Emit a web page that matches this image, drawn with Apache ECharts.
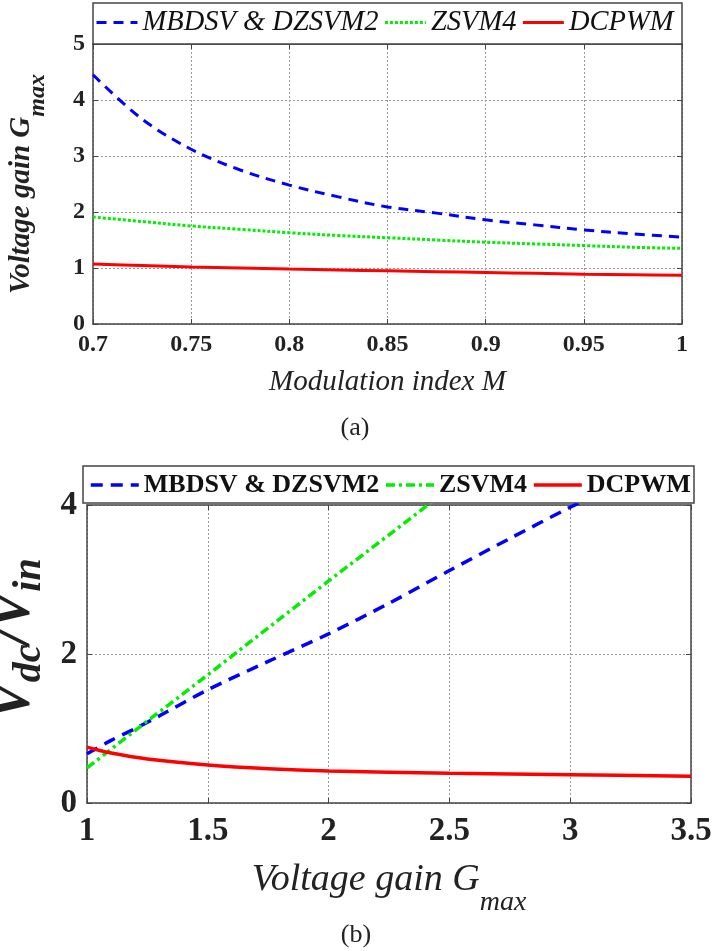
<!DOCTYPE html>
<html>
<head>
<meta charset="utf-8">
<script src="https://cdn.jsdelivr.net/npm/echarts@6/dist/echarts.min.js"></script>
<style>
  html, body { margin: 0; padding: 0; background: #fff; }
  #chart { width: 712px; height: 951px; }
</style>
</head>
<body>
<div id="chart"></div>
<script>
// (a) maximum voltage gain versus modulation index
const modIndex   = [0.7, 0.725, 0.75, 0.775, 0.8, 0.825, 0.85, 0.875, 0.9, 0.925, 0.95, 0.975, 1.0];
const gainMbdsv  = [4.45, 3.66, 3.12, 2.75, 2.48, 2.27, 2.09, 1.98, 1.86, 1.77, 1.68, 1.61, 1.55];
const gainZsvm4  = [1.91, 1.83, 1.75, 1.69, 1.63, 1.58, 1.54, 1.50, 1.46, 1.43, 1.40, 1.37, 1.35];
const gainDcpwm  = [1.07, 1.045, 1.02, 1.0, 0.98, 0.965, 0.95, 0.935, 0.92, 0.905, 0.89, 0.88, 0.87];

// (b) dc-link to input voltage ratio versus voltage gain
const gMbdsv     = [1.0, 1.1, 1.2, 1.3, 1.5, 1.75, 2.0, 2.25, 2.5, 2.75, 3.0, 3.1];
const ratioMbdsv = [0.66, 0.84, 1.0, 1.17, 1.52, 1.9, 2.27, 2.68, 3.12, 3.55, 3.97, 4.13];
const gZsvm4     = [1.0, 1.25, 1.5, 1.75, 2.0, 2.25, 2.5];
const ratioZsvm4 = [0.47, 1.1, 1.72, 2.35, 2.98, 3.6, 4.22];
const gDcpwm     = [1.0, 1.1, 1.25, 1.5, 1.75, 2.0, 2.5, 3.0, 3.5];
const ratioDcpwm = [0.75, 0.67, 0.59, 0.51, 0.46, 0.43, 0.40, 0.38, 0.36];

const seriesNames = ['MBDSV & DZSVM2', 'ZSVM4', 'DCPWM'];
const BLUE = '#0000ff', GREEN = '#00ee00', RED = '#ff0000';
const SERIF = '"Liberation Serif", "DejaVu Serif", serif';
const FRAME = '#444';

function pairs(xs, ys) { return xs.map((x, i) => [x, ys[i]]); }

function frameAxis(gridIndex, position, min, max, interval) {
  return {
    type: 'value', gridIndex, position, min, max, interval,
    axisLine: { show: true, onZero: false, lineStyle: { color: FRAME, width: 1.5 } },
    axisTick: { show: true, inside: true, length: 5, lineStyle: { color: FRAME } },
    axisLabel: { show: false },
    splitLine: { show: false }
  };
}

const tickLabel = (size, margin) => ({
  fontFamily: SERIF, fontWeight: 'bold', fontSize: size, color: '#222', margin
});

const gridLine = { show: true, lineStyle: { type: [2, 2], color: '#9a9a9a', width: 1 } };

// legend keys show only the line sample, no marker
const hiddenMarker = { opacity: 0 };

const chart = echarts.init(document.getElementById('chart'), null, { renderer: 'canvas' });

chart.setOption({
  backgroundColor: '#fff',
  animation: false,
  grid: [
    { left: 93, top: 44, width: 589, height: 280, outerBoundsMode: 'none' },
    { left: 87, top: 505, width: 604, height: 298, outerBoundsMode: 'none' }
  ],
  xAxis: [
    {
      type: 'value', gridIndex: 0, position: 'bottom', min: 0.7, max: 1, interval: 0.05,
      axisLine: { show: true, onZero: false, lineStyle: { color: FRAME, width: 1.5 } },
      axisTick: { show: true, inside: true, length: 5, lineStyle: { color: FRAME } },
      axisLabel: Object.assign(tickLabel(24, 9), { formatter: v => String(+v.toFixed(2)) }),
      splitLine: gridLine,
      name: 'Modulation index M',
      nameLocation: 'middle', nameGap: 41,
      nameTextStyle: { fontFamily: SERIF, fontStyle: 'italic', fontSize: 29, color: '#222', lineHeight: 34 }
    },
    frameAxis(0, 'top', 0.7, 1, 0.05),
    {
      type: 'value', gridIndex: 1, position: 'bottom', min: 1, max: 3.5, interval: 0.5,
      axisLine: { show: true, onZero: false, lineStyle: { color: FRAME, width: 1.5 } },
      axisTick: { show: true, inside: true, length: 5, lineStyle: { color: FRAME } },
      axisLabel: tickLabel(33, 12),
      splitLine: gridLine,
      name: '{a|Voltage gain G}{s|max}',
      nameLocation: 'middle', nameGap: 58,
      nameTextStyle: {
        fontFamily: SERIF, fontStyle: 'italic', color: '#222',
        rich: {
          a: { fontFamily: SERIF, fontStyle: 'italic', fontSize: 38, lineHeight: 44, verticalAlign: 'top', color: '#222' },
          s: { fontFamily: SERIF, fontStyle: 'italic', fontSize: 28, lineHeight: 84, verticalAlign: 'middle', color: '#222' }
        }
      }
    },
    frameAxis(1, 'top', 1, 3.5, 0.5)
  ],
  yAxis: [
    {
      type: 'value', gridIndex: 0, position: 'left', min: 0, max: 5, interval: 1,
      axisLine: { show: true, onZero: false, lineStyle: { color: FRAME, width: 1.5 } },
      axisTick: { show: true, inside: true, length: 5, lineStyle: { color: FRAME } },
      axisLabel: tickLabel(24, 8),
      splitLine: gridLine,
      name: '{a|Voltage gain G}{s|max}',
      nameLocation: 'middle', nameGap: 24,
      nameTextStyle: {
        fontFamily: SERIF, fontStyle: 'italic', fontWeight: 'bold', color: '#222',
        rich: {
          a: { fontFamily: SERIF, fontStyle: 'italic', fontWeight: 'bold', fontSize: 29, lineHeight: 34, verticalAlign: 'top', color: '#222' },
          s: { fontFamily: SERIF, fontStyle: 'italic', fontWeight: 'bold', fontSize: 24, lineHeight: 62, verticalAlign: 'middle', color: '#222' }
        }
      }
    },
    frameAxis(0, 'right', 0, 5, 1),
    {
      type: 'value', gridIndex: 1, position: 'left', min: 0, max: 4, interval: 2,
      axisLine: { show: true, onZero: false, lineStyle: { color: FRAME, width: 1.5 } },
      axisTick: { show: true, inside: true, length: 5, lineStyle: { color: FRAME } },
      axisLabel: tickLabel(33, 10),
      splitLine: gridLine,
      name: '{v|V}{s|dc}{v|/V}{s|in}',
      nameLocation: 'middle', nameGap: -1,
      nameTextStyle: {
        fontFamily: SERIF, fontStyle: 'italic', fontWeight: 'bold', color: '#222',
        padding: [0, 0, 0, 30],
        rich: {
          v: { fontFamily: SERIF, fontStyle: 'italic', fontWeight: 'bold', fontSize: 56, lineHeight: 62, verticalAlign: 'top', color: '#222' },
          s: { fontFamily: SERIF, fontStyle: 'italic', fontWeight: 'bold', fontSize: 40, lineHeight: 86, verticalAlign: 'middle', color: '#222' }
        }
      }
    },
    frameAxis(1, 'right', 0, 4, 2)
  ],
  legend: [
    {
      left: 95, top: 8, padding: 0, z: 10,
      itemWidth: 41, itemHeight: 14, itemGap: 5,
      itemStyle: hiddenMarker,
      textStyle: { fontFamily: SERIF, fontStyle: 'italic', fontSize: 28.5, color: '#111' },
      data: [
        { name: seriesNames[0], lineStyle: { color: BLUE, type: [10, 7], width: 3 } },
        { name: seriesNames[1], lineStyle: { color: GREEN, type: [3, 2], width: 3 } },
        { name: seriesNames[2], lineStyle: { color: RED, type: 'solid', width: 3 } }
      ]
    },
    {
      left: 89, top: 472, padding: 0, z: 10,
      itemWidth: 48, itemHeight: 14, itemGap: 5,
      itemStyle: hiddenMarker,
      textStyle: { fontFamily: SERIF, fontWeight: 'bold', fontSize: 26, color: '#111' },
      data: [
        { name: seriesNames[0], lineStyle: { color: BLUE, type: [12, 8], width: 3.5 } },
        { name: seriesNames[1], lineStyle: { color: GREEN, type: [9, 4, 3, 4], width: 3.5 } },
        { name: seriesNames[2], lineStyle: { color: RED, type: 'solid', width: 3.5 } }
      ]
    }
  ],
  graphic: [
    { type: 'rect', z: 1, shape: { x: 93, y: 3, width: 589, height: 41 },
      style: { fill: '#fff', stroke: FRAME, lineWidth: 1.5 } },
    { type: 'rect', z: 1, shape: { x: 83, y: 466, width: 611, height: 37 },
      style: { fill: '#fff', stroke: FRAME, lineWidth: 1.5 } },
    { type: 'text', x: 355, y: 428,
      style: { text: '(a)', fontFamily: SERIF, fontSize: 26, fill: '#222', align: 'center', verticalAlign: 'middle' } },
    { type: 'text', x: 356, y: 935,
      style: { text: '(b)', fontFamily: SERIF, fontSize: 26, fill: '#222', align: 'center', verticalAlign: 'middle' } }
  ],
  series: [
    { name: seriesNames[0], type: 'line', xAxisIndex: 0, yAxisIndex: 0, symbol: 'none',
      smooth: 0.35, data: pairs(modIndex, gainMbdsv),
      lineStyle: { color: BLUE, type: [10, 7], width: 3 }, itemStyle: { color: BLUE }, z: 3 },
    { name: seriesNames[1], type: 'line', xAxisIndex: 0, yAxisIndex: 0, symbol: 'none',
      smooth: 0.35, data: pairs(modIndex, gainZsvm4),
      lineStyle: { color: GREEN, type: [3, 2], width: 3 }, itemStyle: { color: GREEN }, z: 3 },
    { name: seriesNames[2], type: 'line', xAxisIndex: 0, yAxisIndex: 0, symbol: 'none',
      smooth: 0.35, data: pairs(modIndex, gainDcpwm),
      lineStyle: { color: RED, type: 'solid', width: 3 }, itemStyle: { color: RED }, z: 3 },

    { name: seriesNames[0], type: 'line', xAxisIndex: 2, yAxisIndex: 2, symbol: 'none',
      smooth: 0.3, data: pairs(gMbdsv, ratioMbdsv), clip: true,
      lineStyle: { color: BLUE, type: [12, 8], width: 3.5 }, itemStyle: { color: BLUE }, z: 3 },
    { name: seriesNames[1], type: 'line', xAxisIndex: 2, yAxisIndex: 2, symbol: 'none',
      smooth: false, data: pairs(gZsvm4, ratioZsvm4), clip: true,
      lineStyle: { color: GREEN, type: [9, 4, 3, 4], width: 3.5 }, itemStyle: { color: GREEN }, z: 3 },
    { name: seriesNames[2], type: 'line', xAxisIndex: 2, yAxisIndex: 2, symbol: 'none',
      smooth: 0.35, data: pairs(gDcpwm, ratioDcpwm), clip: true,
      lineStyle: { color: RED, type: 'solid', width: 3.5 }, itemStyle: { color: RED }, z: 3 }
  ]
});
</script>
</body>
</html>
